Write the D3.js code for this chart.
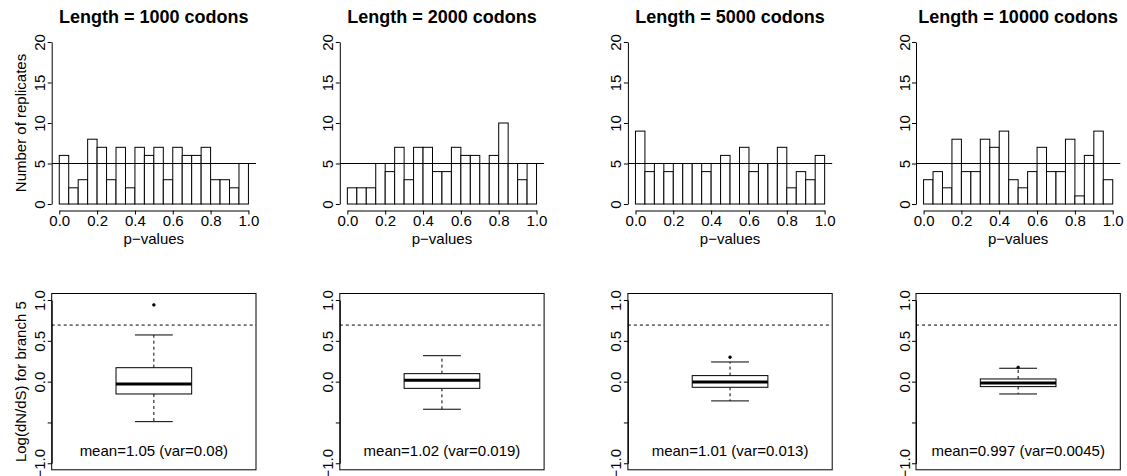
<!DOCTYPE html>
<html>
<head>
<meta charset="utf-8">
<script src="https://cdn.jsdelivr.net/npm/d3@7"></script>
<style>
  body { margin: 0; background: #fff; }
  svg { display: block; font-family: "Liberation Sans", Arial, Helvetica, sans-serif; }
</style>
</head>
<body>
<svg id="chart" width="1127" height="476"></svg>
<script>
// data
const lengths = [1000, 2000, 5000, 10000]
const binEdges = [0, 0.05, 0.1, 0.15, 0.2, 0.25, 0.3, 0.35, 0.4, 0.45, 0.5,
  0.55, 0.6, 0.65, 0.7, 0.75, 0.8, 0.85, 0.9, 0.95, 1.0]
const counts1000 = [6, 2, 3, 8, 7, 3, 7, 2, 7, 6, 7, 3, 7, 6, 6, 7, 3, 3, 2, 5]
const counts2000 = [2, 2, 2, 5, 4, 7, 3, 7, 7, 4, 4, 7, 6, 6, 5, 6, 10, 5, 3, 5]
const counts5000 = [9, 4, 5, 4, 5, 5, 5, 4, 5, 6, 5, 7, 4, 5, 5, 7, 2, 4, 3, 6]
const counts10000 = [3, 4, 2, 8, 4, 4, 8, 7, 9, 3, 2, 4, 7, 4, 4, 8, 1, 6, 9, 3]
const histCounts = [counts1000, counts2000, counts5000, counts10000]
const expectedCount = 5
const histTicksX = [0, 0.2, 0.4, 0.6, 0.8, 1.0]
const histTicksY = [0, 5, 10, 15, 20]

const whiskerLow = [-0.49, -0.338, -0.236, -0.151]
const quart1 = [-0.151, -0.082, -0.069, -0.061]
const medians = [-0.028, 0.017, -0.004, -0.016]
const quart3 = [0.171, 0.098, 0.074, 0.033]
const whiskerHigh = [0.572, 0.318, 0.241, 0.164]
const outliers = [[0.94], [], [0.299], [0.175]]
const meanLabels = ["mean=1.05 (var=0.08)", "mean=1.02 (var=0.019)",
  "mean=1.01 (var=0.013)", "mean=0.997 (var=0.0045)"]
const boxTicksY = [-1, -0.5, 0, 0.5, 1]
const boxLabelsY = ["\u22121.0", "", "0.0", "0.5", "1.0"]
const neutralLine = Math.log(2)

// layout
const panelX0 = 51.7
const panelStep = 288.1
const plotW = 204.3
const histTop = 35.5, histBottom = 210.5
const boxTop = 293.5, boxBottom = 469.8
const fs = 15

const svg = d3.select("#chart")

function rAxisLeft(g, scale, ticks, labels) {
  // R style axis: line spans first..last tick, labels parallel to the axis
  const sub = d3.scaleLinear().domain(d3.extent(ticks)).range([scale(d3.min(ticks)), scale(d3.max(ticks))])
  g.call(d3.axisLeft(sub).tickValues(ticks).tickSize(4).tickSizeOuter(0).tickFormat((d, i) => labels[i]))
  g.selectAll("text")
    .attr("transform", "rotate(-90)")
    .attr("x", 0).attr("y", -6.5).attr("dy", 0)
    .attr("text-anchor", "middle")
  tidy(g)
}

function tidy(g) {
  g.selectAll("path, line").attr("stroke", "#000").attr("stroke-width", 1)
  g.selectAll("text").attr("fill", "#000").style("font-size", fs + "px")
  g.attr("font-family", null).attr("font-size", null)
}

lengths.forEach((len, i) => {
  const left = panelX0 + i * panelStep
  const right = left + plotW

  // ---- histogram of p-values ----
  const x = d3.scaleLinear().domain([-0.04, 1.04]).range([left, right])
  const y = d3.scaleLinear().domain([-0.8, 20.8]).range([histBottom, histTop])
  const hist = svg.append("g")

  hist.selectAll("rect.bin")
    .data(histCounts[i])
    .enter().append("rect")
      .attr("class", "bin")
      .attr("x", (d, j) => x(binEdges[j]))
      .attr("width", (d, j) => x(binEdges[j + 1]) - x(binEdges[j]))
      .attr("y", d => y(d))
      .attr("height", d => y(0) - y(d))
      .style("fill", "#fff")
      .style("stroke", "#000")
      .style("stroke-width", 1)

  hist.append("line")
    .attr("x1", left).attr("x2", right)
    .attr("y1", y(expectedCount)).attr("y2", y(expectedCount))
    .style("stroke", "#000").style("stroke-width", 1)

  const xSub = d3.scaleLinear().domain([0, 1]).range([x(0), x(1)])
  const gx = hist.append("g").attr("transform", `translate(0,${histBottom})`)
  gx.call(d3.axisBottom(xSub).tickValues(histTicksX).tickSize(4).tickSizeOuter(0).tickPadding(1).tickFormat(d3.format(".1f")))
  tidy(gx)

  const gy = hist.append("g").attr("transform", `translate(${left},0)`)
  rAxisLeft(gy, y, histTicksY, histTicksY.map(String))

  hist.append("text")
    .attr("x", (left + right) / 2).attr("y", 23)
    .attr("text-anchor", "middle")
    .style("font-size", "18px").style("font-weight", "bold")
    .text(`Length = ${len} codons`)

  hist.append("text")
    .attr("x", (left + right) / 2).attr("y", 244)
    .attr("text-anchor", "middle")
    .style("font-size", fs + "px")
    .text("p\u2212values")

  if (i === 0) {
    hist.append("text")
      .attr("transform", `translate(${left - 25.5},${(histTop + histBottom) / 2}) rotate(-90)`)
      .attr("text-anchor", "middle")
      .style("font-size", fs + "px")
      .text("Number of replicates")
  }

  // ---- boxplot of log(dN/dS) ----
  const bx = d3.scaleLinear().domain([0.46, 1.54]).range([left, right])
  const by = d3.scaleLinear().domain([-1.08, 1.08]).range([boxBottom, boxTop])
  const box = svg.append("g")

  box.append("line")
    .attr("x1", left).attr("x2", right)
    .attr("y1", by(neutralLine)).attr("y2", by(neutralLine))
    .style("stroke", "#000").style("stroke-dasharray", "3,3")

  // whiskers
  box.selectAll("line.whisk")
    .data([[quart3[i], whiskerHigh[i]], [quart1[i], whiskerLow[i]]])
    .enter().append("line")
      .attr("class", "whisk")
      .attr("x1", bx(1)).attr("x2", bx(1))
      .attr("y1", d => by(d[0])).attr("y2", d => by(d[1]))
      .style("stroke", "#000").style("stroke-dasharray", "3,3")

  box.selectAll("line.cap")
    .data([whiskerHigh[i], whiskerLow[i]])
    .enter().append("line")
      .attr("class", "cap")
      .attr("x1", bx(0.9)).attr("x2", bx(1.1))
      .attr("y1", d => by(d)).attr("y2", d => by(d))
      .style("stroke", "#000")

  box.append("rect")
    .attr("x", bx(0.8)).attr("width", bx(1.2) - bx(0.8))
    .attr("y", by(quart3[i])).attr("height", by(quart1[i]) - by(quart3[i]))
    .style("fill", "#fff").style("stroke", "#000")

  box.append("line")
    .attr("x1", bx(0.8)).attr("x2", bx(1.2))
    .attr("y1", by(medians[i])).attr("y2", by(medians[i]))
    .style("stroke", "#000").style("stroke-width", 3)

  box.selectAll("circle.out")
    .data(outliers[i])
    .enter().append("circle")
      .attr("class", "out")
      .attr("cx", bx(1)).attr("cy", d => by(d)).attr("r", 1.4)
      .style("fill", "#000").style("stroke", "#000").style("stroke-width", 0.6)

  box.append("text")
    .attr("x", bx(1)).attr("y", by(-0.9) + 1)
    .attr("text-anchor", "middle")
    .style("font-size", fs + "px")
    .text(meanLabels[i])

  box.append("rect")
    .attr("x", left).attr("y", boxTop)
    .attr("width", plotW).attr("height", boxBottom - boxTop)
    .style("fill", "none").style("stroke", "#000")

  const gby = box.append("g").attr("transform", `translate(${left},0)`)
  rAxisLeft(gby, by, boxTicksY, boxLabelsY)

  if (i === 0) {
    box.append("text")
      .attr("transform", `translate(${left - 25.5},${(boxTop + boxBottom) / 2}) rotate(-90)`)
      .attr("text-anchor", "middle")
      .style("font-size", fs + "px")
      .text("Log(dN/dS) for branch 5")
  }
})
</script>
</body>
</html>
